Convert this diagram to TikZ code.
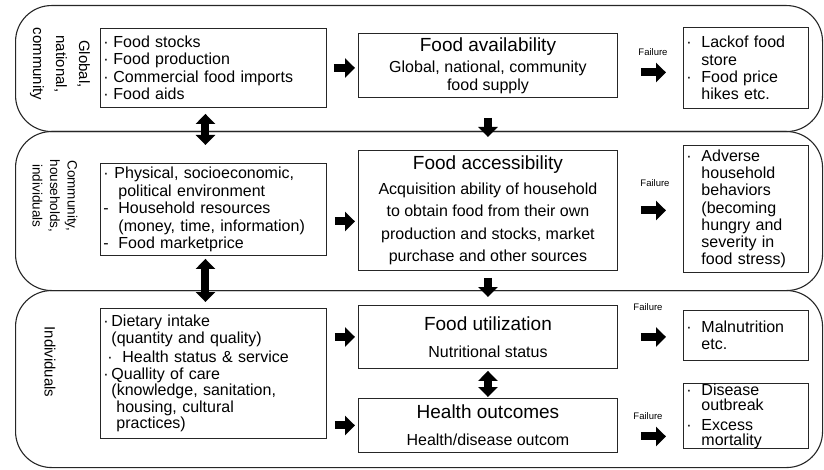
\documentclass[tikz,border=0pt]{standalone}
\usepackage{fontspec}
\setmainfont{Liberation Sans}
\usetikzlibrary{arrows.meta}
\newcommand{\bu}[1]{\makebox[#1][l]{·}}
\newcommand{\da}[1]{\makebox[#1][l]{-}}
\newcommand{\ind}[1]{\hspace*{#1}}
\begin{document}
\begin{tikzpicture}[x=1pt,y=-1pt,
  band/.style={draw=black!85, line width=1.1pt, rounded corners=36pt, anchor=north west, inner sep=0pt, minimum width=807pt},
  box/.style={draw=black!85, line width=0.9pt, anchor=north west, inner sep=0pt},
  lbox/.style={box, minimum width=226pt, text width=220pt, align=left, font=\fontsize{16}{17.5}\selectfont},
  cbox/.style={box, minimum width=259pt, align=center, font=\fontsize{16}{18}\selectfont},
  rbox/.style={box, minimum width=125pt, text width=119pt, align=left, font=\fontsize{16}{17.3}\selectfont},
  fail/.style={font=\fontsize{9.5}{11}\selectfont, inner sep=0pt},
  blk/.style={line width=8pt, -{Triangle[length=10pt,width=19pt]}},
  dblk/.style={line width=8pt, {Triangle[length=10pt,width=19pt]}-{Triangle[length=10pt,width=19pt]}}
]
\useasboundingbox (0,0) rectangle (824,470);
% bands
\node[band, minimum height=126pt] (band1) at (15,5) {};
\node[band, minimum height=159pt] (band2) at (15,131) {};
\node[band, minimum height=177pt] (band3) at (15,290) {};
% band labels
\node[rotate=-90, align=center, font=\fontsize{15}{23}\selectfont] (lab1) at (60,64) {Global,\\national,\\community};
\node[rotate=-90, align=center, font=\fontsize{13.5}{17.5}\selectfont] (lab2) at (55,196) {Community,\\households,\\individuals};
\node[rotate=-90, font=\fontsize{15}{18}\selectfont] (lab3) at (50,362) {Individuals};
% row 1
\node[lbox, minimum height=79pt, inner xsep=3pt] (A1) at (100,28) {\bu{10pt}Food stocks\\ \bu{10pt}Food production\\ \bu{10pt}Commercial food imports\\ \bu{10pt}Food aids};
\node[cbox, minimum height=64pt] (avail) at (358,33) {{\fontsize{19}{21}\selectfont Food availability}\\[3pt] Global, national, community\\ food supply};
\node[rbox, minimum height=81pt, inner xsep=3pt] (lack) at (683,27) {\bu{15pt}Lackof food\\ \ind{15pt}store\\ \bu{15pt}Food price\\ \ind{15pt}hikes etc.};
\node[fail] (f1) at (653,52) {Failure};
% row 2
\node[lbox, minimum height=92pt, inner xsep=2pt] (B1) at (100,163) {\bu{11pt}Physical, socioeconomic,\\ \ind{15pt}political environment\\ \da{15pt}Household resources\\ \ind{15pt}(money, time, information)\\ \da{15pt}Food marketprice};
\node[cbox, minimum height=120pt, font=\fontsize{16}{22.5}\selectfont] (access) at (358,150) {{\fontsize{19}{21}\selectfont Food accessibility}\\[2pt] Acquisition ability of household\\ to obtain food from their own\\ production and stocks, market\\ purchase and other sources};
\node[rbox, minimum height=127pt, inner xsep=3pt] (adverse) at (683,145) {\bu{15pt}Adverse\\ \ind{15pt}household\\ \ind{15pt}behaviors\\ \ind{15pt}(becoming\\ \ind{15pt}hungry and\\ \ind{15pt}severity in\\ \ind{15pt}food stress)};
\node[fail] (f2) at (655,183) {Failure};
% row 3
\node[lbox, minimum height=130pt, inner xsep=2pt, font=\fontsize{16}{16.5}\selectfont] (C1) at (100,308) {\bu{8pt}Dietary intake\\ \ind{8pt}(quantity and quality)\\[3pt] \ind{4pt}\bu{15pt}Health status \& service\\ \bu{8pt}Quallity of care\\ \ind{8pt}(knowledge, sanitation,\\ \ind{13pt}housing, cultural\\ \ind{13pt}practices)};
\node[cbox, minimum height=63pt] (util) at (358,305) {{\fontsize{19}{21}\selectfont Food utilization}\\[9pt] Nutritional status};
\node[cbox, minimum height=54pt] (health) at (358,398) {{\fontsize{19}{21}\selectfont Health outcomes}\\[9pt] Health/disease outcom};
\node[rbox, minimum height=50pt, inner xsep=3pt] (maln) at (683,310) {\bu{15pt}Malnutrition\\ \ind{15pt}etc.};
\node[rbox, minimum height=63pt, inner xsep=3pt, font=\fontsize{16}{15.5}\selectfont] (dis) at (683,383) {\bu{15pt}Disease\\ \ind{15pt}outbreak\\[4pt] \bu{15pt}Excess\\ \ind{15pt}mortality};
\node[fail] (f3) at (648,307) {Failure};
\node[fail] (f4) at (648,416) {Failure};
% horizontal arrows
\draw[blk, shorten <=7pt, shorten >=3pt] (A1.east) -- (A1.east -| avail.west);
\draw[blk, shorten <=8pt, shorten >=3pt] ([yshift=-12pt]B1.east) -- ([yshift=-12pt]B1.east -| access.west);
\draw[blk, shorten <=8pt, shorten >=3pt] (util.west -| C1.east) -- (util.west);
\draw[blk, shorten <=8pt, shorten >=3pt] (health.west -| C1.east) -- (health.west);
% failure arrows
\draw[blk, shorten <=23pt, shorten >=17pt] ([yshift=-7pt]avail.east) -- ([yshift=-7pt]avail.east -| lack.west);
\draw[blk, shorten <=23pt, shorten >=17pt] (access.east) -- (access.east -| adverse.west);
\draw[blk, shorten <=23pt, shorten >=17pt] (util.east) -- (util.east -| maln.west);
\draw[blk, shorten <=23pt, shorten >=17pt] ([yshift=-11pt]health.east) -- ([yshift=-11pt]health.east -| dis.west);
% vertical arrows
\draw[dblk, shorten <=6pt, shorten >=18pt] ([xshift=-8pt]A1.south) -- ([xshift=-8pt]A1.south |- B1.north);
\draw[dblk, shorten <=3pt, shorten >=6pt] ([xshift=-8pt]B1.south) -- ([xshift=-8pt]B1.south |- C1.north);
\draw[blk, shorten <=20pt, shorten >=13pt] (avail.south) -- (access.north);
\draw[blk, shorten <=7pt, shorten >=8pt] (access.south) -- (util.north);
\draw[dblk, shorten <=2pt, shorten >=1pt] (util.south) -- (health.north);
\end{tikzpicture}
\end{document}
